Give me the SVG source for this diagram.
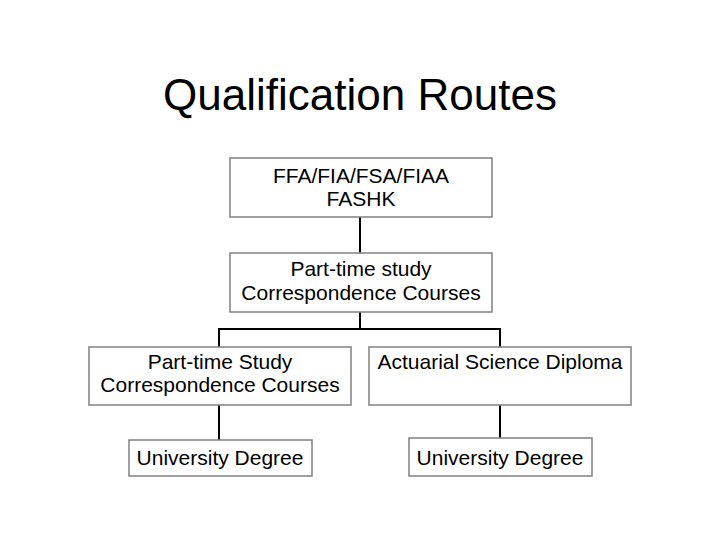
<svg xmlns="http://www.w3.org/2000/svg" width="720" height="540" viewBox="0 0 720 540">
<style>
.b{fill:#fff;stroke:#808080;stroke-width:1.5}
text{font-family:"Liberation Sans",Arial,sans-serif;fill:#000;text-anchor:middle}
.t{font-size:21px}
.c{fill:none;stroke:#000;stroke-width:2}
</style>
<rect width="720" height="540" fill="#fff"/>
<text x="360" y="110" style="font-size:44px">Qualification Routes</text>
<g id="connectors">
<path class="c" d="M360 217V253M360 312V329M219 347V329H500V347M219 405V440M500 405V438"/>
</g>
<g id="n1"><rect class="b" x="230" y="158" width="262" height="59"/><text class="t" x="361" y="183">FFA/FIA/FSA/FIAA</text><text class="t" x="361" y="206">FASHK</text></g>
<g id="n2"><rect class="b" x="230" y="253" width="262" height="59"/><text class="t" x="361" y="276">Part-time study</text><text class="t" x="361" y="300">Correspondence Courses</text></g>
<g id="n3"><rect class="b" x="89" y="347" width="262" height="58"/><text class="t" x="220" y="369">Part-time Study</text><text class="t" x="220" y="392">Correspondence Courses</text></g>
<g id="n4"><rect class="b" x="369" y="347" width="262" height="58"/><text class="t" x="500" y="369">Actuarial Science Diploma</text></g>
<g id="n5"><rect class="b" x="129" y="440" width="183" height="36"/><text class="t" x="220" y="465">University Degree</text></g>
<g id="n6"><rect class="b" x="409" y="438" width="183" height="38"/><text class="t" x="500" y="465">University Degree</text></g>
</svg>
